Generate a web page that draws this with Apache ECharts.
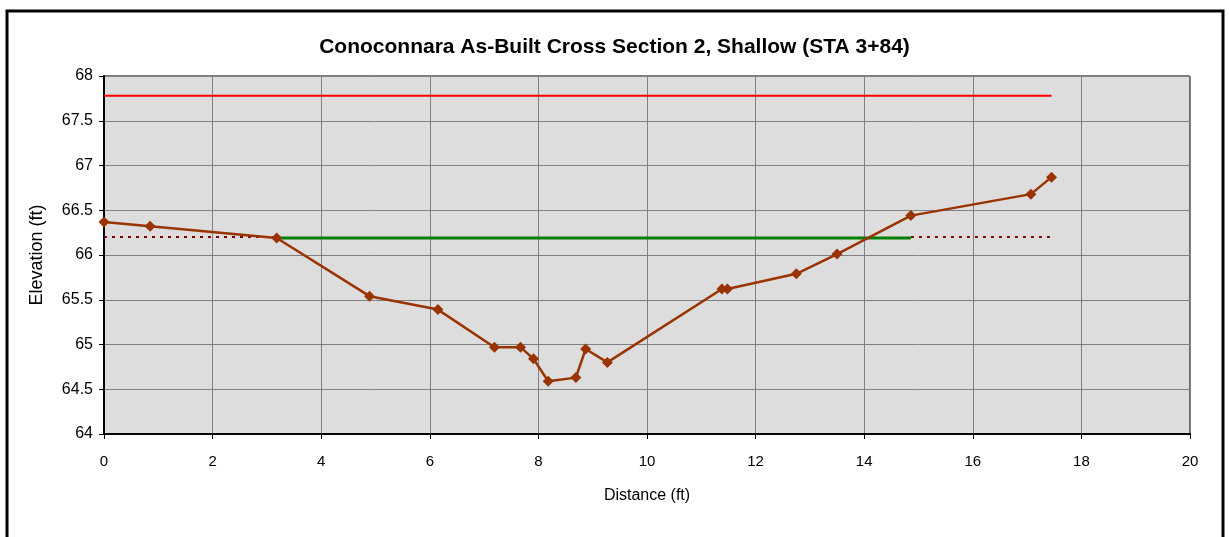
<!DOCTYPE html>
<html>
<head>
<meta charset="utf-8">
<script src="https://cdn.jsdelivr.net/npm/echarts@6/dist/echarts.min.js"></script>
<style>
html,body{margin:0;padding:0;background:#fff;}
#chart{width:1229px;height:537px;}
</style>
</head>
<body>
<div id="chart"></div>
<script>
// Surveyed cross-section (distance ft, elevation ft)
const distance = [0, 0.85, 3.18, 4.89, 6.15, 7.19, 7.67, 7.91, 8.18, 8.69, 8.87, 9.27, 11.38, 11.48, 12.75, 13.50, 14.86, 17.07, 17.45];
const elevation = [66.37, 66.32, 66.19, 65.54, 65.39, 64.97, 64.97, 64.84, 64.59, 64.63, 64.95, 64.80, 65.62, 65.62, 65.79, 66.01, 66.44, 66.68, 66.87];
// Bankfull (green) line
const bankfullX = [3.18, 14.86];
const bankfullY = [66.19, 66.19];
// Dotted extension lines
const dottedLeftX = [0, 3.18];
const dottedRightX = [14.86, 17.45];
const dottedY = 66.2;
// Top of bank (red) line
const topLineX = [0, 17.45];
const topLineY = 67.78;
const xTicks = {min: 0, max: 20, interval: 2};
const yTicks = {min: 64, max: 68, interval: 0.5};

const pairs = (xs, ys) => xs.map((x, i) => [x, Array.isArray(ys) ? ys[i] : ys]);

const chart = echarts.init(document.getElementById('chart'));
const font = "'Liberation Sans', Arial, sans-serif";
chart.setOption({
  animation: false,
  backgroundColor: '#ffffff',
  title: {
    text: 'Conoconnara As-Built Cross Section 2, Shallow (STA 3+84)',
    left: 'center', top: 32,
    textStyle: {fontFamily: font, fontSize: 21, fontWeight: 'bold', color: '#000'}
  },
  graphic: [{
    type: 'rect', shape: {x: 7, y: 11, width: 1216, height: 540},
    style: {fill: 'none', stroke: '#000', lineWidth: 3}
  }],
  grid: {left: 104, right: 39, top: 76, bottom: 103, show: true,
    backgroundColor: '#dddddd', borderColor: '#000', borderWidth: 1},
  xAxis: {
    type: 'value', min: xTicks.min, max: xTicks.max, interval: xTicks.interval,
    name: 'Distance (ft)', nameLocation: 'middle', nameGap: 54,
    nameTextStyle: {fontFamily: font, fontSize: 16, color: '#000'},
    axisLine: {lineStyle: {color: '#000', width: 2}},
    axisTick: {show: true, length: 5, lineStyle: {color: '#000'}},
    axisLabel: {fontFamily: font, fontSize: 15, color: '#000', margin: 20},
    splitLine: {show: true, lineStyle: {color: '#808080', width: 1}}
  },
  yAxis: {
    type: 'value', min: yTicks.min, max: yTicks.max, interval: yTicks.interval,
    name: 'Elevation (ft)', nameLocation: 'middle', nameGap: 58, nameRotate: 90,
    nameTextStyle: {fontFamily: font, fontSize: 18, color: '#000'},
    axisLine: {show: true, lineStyle: {color: '#000', width: 2}},
    axisTick: {show: true, length: 5, lineStyle: {color: '#000'}},
    axisLabel: {fontFamily: font, fontSize: 16, color: '#000', margin: 11},
    splitLine: {show: true, lineStyle: {color: '#808080', width: 1}}
  },
  series: [
    {type: 'line', data: pairs(topLineX, topLineY), symbol: 'none',
      lineStyle: {color: '#ff0000', width: 2}, z: 2},
    {type: 'line', data: pairs(dottedLeftX, dottedY), symbol: 'none',
      lineStyle: {color: '#800000', width: 2, type: [3, 5]}, z: 2},
    {type: 'line', data: pairs(dottedRightX, dottedY), symbol: 'none',
      lineStyle: {color: '#800000', width: 2, type: [3, 5]}, z: 2},
    {type: 'line', data: pairs(bankfullX, bankfullY), symbol: 'none',
      lineStyle: {color: '#008000', width: 3}, z: 3},
    {type: 'line', data: pairs(distance, elevation), symbol: 'diamond', symbolSize: 11,
      itemStyle: {color: '#993300'}, lineStyle: {color: '#993300', width: 2.5}, z: 4}
  ]
});
</script>
</body>
</html>
